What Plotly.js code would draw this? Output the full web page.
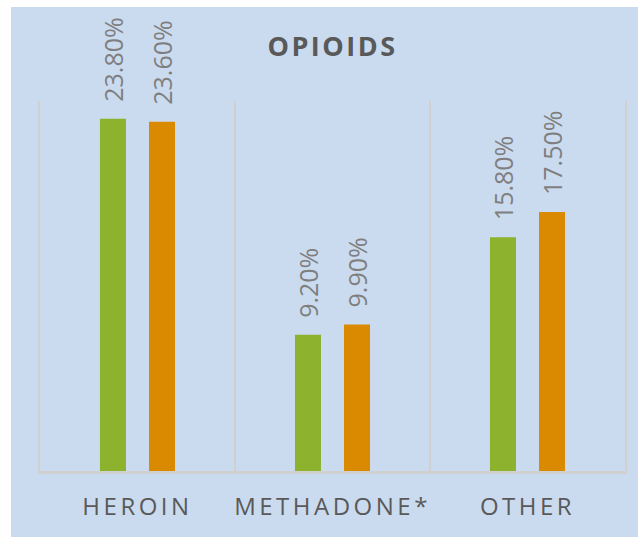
<!DOCTYPE html>
<html>
<head>
<meta charset="utf-8">
<script src="https://cdn.plot.ly/plotly-3.0.1.min.js"></script>
<style>
html,body{margin:0;padding:0;background:#ffffff;width:638px;height:537px;overflow:hidden;}
#chart{position:absolute;left:11px;top:7px;width:627px;height:530px;}
.xtick text{letter-spacing:3.5px;}
.gtitle{letter-spacing:2.5px;}
</style>
</head>
<body>
<div id="chart"></div>
<script>
const categories = ["HEROIN", "METHADONE*", "OTHER"];
const seriesA = [23.8, 9.2, 15.8];
const seriesB = [23.6, 9.9, 17.5];
const labelsA = ["23.80%", "9.20%", "15.80%"];
const labelsB = ["23.60%", "9.90%", "17.50%"];

const green = "#8DB32E";
const orange = "#D98A00";
const gridGray = "#D0D0D0";

const traces = [
  {type: "bar", x: categories, y: seriesA, marker: {color: green}, hoverinfo: "none", name: "A"},
  {type: "bar", x: categories, y: seriesB, marker: {color: orange}, hoverinfo: "none", name: "B"}
];

const labelFont = {family: "Open Sans", size: 25, color: "#7F7F7F"};
const annotations = [];
categories.forEach((c, i) => {
  annotations.push({x: c, y: seriesA[i], xref: "x", yref: "y", text: labelsA[i], showarrow: false,
    textangle: -90, xanchor: "center", yanchor: "bottom", xshift: -24.5, yshift: 15, font: labelFont});
  annotations.push({x: c, y: seriesB[i], xref: "x", yref: "y", text: labelsB[i], showarrow: false,
    textangle: -90, xanchor: "center", yanchor: "bottom", xshift: 24.5, yshift: 15, font: labelFont});
});

const layout = {
  width: 627, height: 530,
  paper_bgcolor: "#CBDBEF", plot_bgcolor: "rgba(0,0,0,0)",
  margin: {l: 29, r: 13, t: 94, b: 66},
  showlegend: false,
  barmode: "group", bargap: 0.497, bargroupgap: 0.47,
  title: {text: "<b>OPIOIDS</b>", x: 0.5, xref: "paper", y: 0.9245, yref: "container", yanchor: "middle",
    font: {family: "Open Sans", size: 27, color: "#595959"}},
  xaxis: {type: "category", tickson: "boundaries", showgrid: true, gridcolor: gridGray, gridwidth: 2,
    showline: true, linecolor: gridGray, linewidth: 2.5, ticks: "", ticklabelstandoff: 13,
    tickfont: {family: "Open Sans", size: 24, color: "#595959"}, fixedrange: true},
  yaxis: {range: [0, 25], showgrid: false, zeroline: false, showticklabels: false, ticks: "",
    showline: true, mirror: true, linecolor: gridGray, linewidth: 2, fixedrange: true},
  annotations: annotations
};

Plotly.newPlot("chart", traces, layout, {displayModeBar: false, staticPlot: true});
</script>
</body>
</html>
